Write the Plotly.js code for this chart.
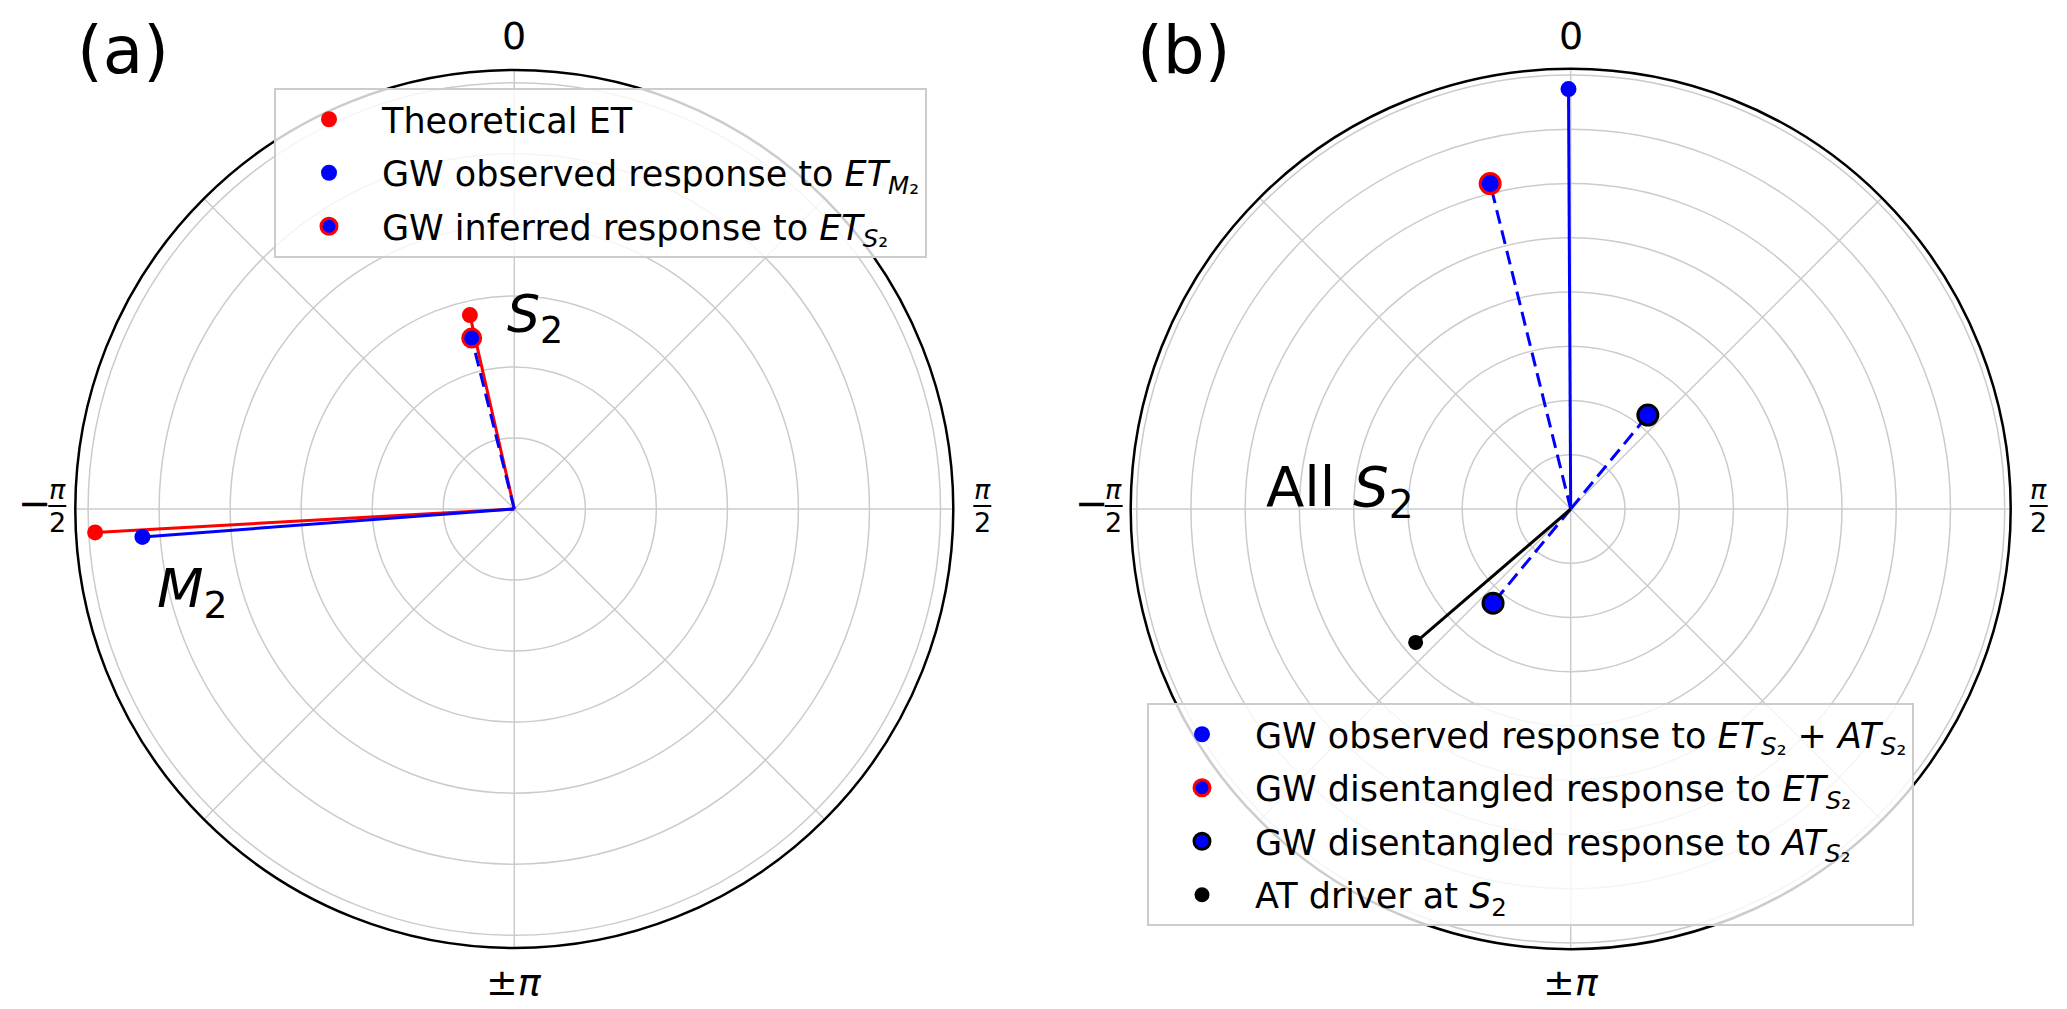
<!DOCTYPE html>
<html>
<head>
<meta charset="utf-8">
<script src="https://cdn.plot.ly/plotly-3.0.1.min.js"></script>
<style>html,body{margin:0;padding:0;background:#fff;}#chart{width:2067px;height:1009px;}</style>
</head>
<body>
<div id="chart"></div>
<script>
// ---------- Data (phase in degrees, amplitude in radial grid units) ----------
// Panel (a)
const aTides = ['M2', 'S2'];
const aTheoPhase = [-93.2, -12.9];      // Theoretical ET
const aTheoAmp = [5.91, 2.80];
const aObsPhase = [-94.3];              // GW observed response to ET_M2
const aObsAmp = [5.25];
const aInfPhase = [-14.0];              // GW inferred response to ET_S2
const aInfAmp = [2.48];
const aRadialTicks = [1, 2, 3, 4, 5, 6];
const aRadialMax = 6.18;

// Panel (b)
const bObsPhase = [-0.3];               // GW observed response to ET_S2 + AT_S2
const bObsAmp = [7.74];
const bEtPhase = [-13.9];               // GW disentangled response to ET_S2
const bEtAmp = [6.18];
const bAtPhase = [39.4, -140.5];        // GW disentangled response to AT_S2
const bAtAmp = [2.24, 2.25];
const bDrvPhase = [-130.7];             // AT driver at S2
const bDrvAmp = [3.77];
const bRadialTicks = [1, 2, 3, 4, 5, 6, 7, 8];
const bRadialMax = 8.11;

const angTicks = [0, 45, 90, 135, 180, 225, 270, 315];

// ---------- helpers ----------
const W = 2067, H = 1009;
const px = x => x / W;
const py = y => 1 - y / H;
const FONT = 'DejaVu Sans, sans-serif';

function spokes(phases, amps, subplot, color, dash, width) {
  return phases.map((p, i) => ({
    type: 'scatterpolar', subplot: subplot, mode: 'lines',
    r: [0, amps[i]], theta: [p, p],
    line: {color: color, width: width, dash: dash},
    showlegend: false, hoverinfo: 'skip'
  }));
}
let grp = 0;
function pts(phases, amps, subplot, name, legend, marker) {
  grp += 1;
  return {
    type: 'scatterpolar', subplot: subplot, mode: 'markers',
    r: amps, theta: phases, name: name, legend: legend, legendgroup: 'g' + grp,
    marker: marker, cliponaxis: false
  };
}

const dashStyle = '14px,7px';
const traces = [].concat(
  // panel (a) lines
  spokes(aTheoPhase, aTheoAmp, 'polar', 'red', 'solid', 3),
  spokes(aObsPhase, aObsAmp, 'polar', 'blue', 'solid', 3),
  spokes(aInfPhase, aInfAmp, 'polar', 'blue', dashStyle, 3),
  // panel (a) markers
  [
    pts(aTheoPhase, aTheoAmp, 'polar', 'Theoretical ET', 'legend',
        {color: 'red', size: 16}),
    pts(aObsPhase, aObsAmp, 'polar', 'GW observed response to <i>ET</i><sub><i>M</i>₂</sub>', 'legend',
        {color: 'blue', size: 16}),
    pts(aInfPhase, aInfAmp, 'polar', 'GW inferred response to <i>ET</i><sub><i>S</i>₂</sub>', 'legend',
        {color: 'blue', size: 18, line: {color: 'red', width: 3}})
  ],
  // panel (b) lines
  spokes(bObsPhase, bObsAmp, 'polar2', 'blue', 'solid', 3),
  spokes(bEtPhase, bEtAmp, 'polar2', 'blue', dashStyle, 3),
  spokes(bAtPhase, bAtAmp, 'polar2', 'blue', dashStyle, 3),
  spokes(bDrvPhase, bDrvAmp, 'polar2', 'black', 'solid', 3),
  // panel (b) markers
  [
    pts(bObsPhase, bObsAmp, 'polar2', 'GW observed response to <i>ET</i><sub><i>S</i>₂</sub> + <i>AT</i><sub><i>S</i>₂</sub>', 'legend2',
        {color: 'blue', size: 16}),
    pts(bEtPhase, bEtAmp, 'polar2', 'GW disentangled response to <i>ET</i><sub><i>S</i>₂</sub>', 'legend2',
        {color: 'blue', size: 20, line: {color: 'red', width: 3}}),
    pts(bAtPhase, bAtAmp, 'polar2', 'GW disentangled response to <i>AT</i><sub><i>S</i>₂</sub>', 'legend2',
        {color: 'blue', size: 20, line: {color: 'black', width: 3}}),
    pts(bDrvPhase, bDrvAmp, 'polar2', 'AT driver at <i>S</i><sub>2</sub>', 'legend2',
        {color: 'black', size: 15})
  ]
);

function polarCfg(cx, cy, R, ticks, rmax) {
  return {
    domain: {x: [px(cx - R), px(cx + R)], y: [py(cy + R), py(cy - R)]},
    bgcolor: 'white',
    radialaxis: {range: [0, rmax], tickvals: ticks, showticklabels: false, ticks: '',
                 showline: false, gridcolor: '#cbcbcb', gridwidth: 1.5},
    angularaxis: {rotation: 90, direction: 'clockwise', tickvals: angTicks,
                  showticklabels: false, ticks: '', showline: true, linecolor: 'black',
                  linewidth: 2.5, gridcolor: '#cbcbcb', gridwidth: 1.5}
  };
}

const A = {cx: 514.3, cy: 509, R: 439};
const B = {cx: 1570.7, cy: 509, R: 440};

const annotations = [];
const shapes = [];
function txt(x, y, text, size, xanchor) {
  annotations.push({xref: 'paper', yref: 'paper', x: px(x), y: py(y), text: text,
    showarrow: false, xanchor: xanchor || 'center', yanchor: 'middle',
    font: {family: FONT, size: size, color: 'black'}});
}
function frac(cx, cy) {
  txt(cx, cy - 17, '<i>π</i>', 27);
  txt(cx, cy + 16, '2', 27);
  shapes.push({type: 'line', xref: 'paper', yref: 'paper',
    x0: px(cx - 9), x1: px(cx + 9), y0: py(cy), y1: py(cy),
    line: {color: 'black', width: 2}});
}
[A, B].forEach(P => {
  txt(P.cx, 36, '0', 38);
  txt(P.cx, 982, '±<i>π</i>', 38);
  frac(P.cx + 468, 506);
  frac(P.cx - 457, 506);
  txt(P.cx - 479, 503, '−', 40);
});
txt(123, 50, '(a)', 66);
txt(1183, 50, '(b)', 66);
txt(505, 318, '<i>S</i><sub>2</sub>', 52, 'left');
txt(155, 592, '<i>M</i><sub>2</sub>', 54, 'left');
txt(1264, 490, 'All <i>S</i><sub>2</sub>', 56, 'left');

const legendCommon = {
  xanchor: 'left', yanchor: 'top', bgcolor: 'rgba(255,255,255,0.8)',
  bordercolor: '#cccccc', borderwidth: 2,
  font: {family: FONT, size: 35, color: 'black'}, itemwidth: 96,
  traceorder: 'grouped', tracegroupgap: 5
};

const layout = {
  width: W, height: H,
  margin: {l: 0, r: 0, t: 0, b: 0},
  paper_bgcolor: 'white',
  font: {family: FONT, color: 'black'},
  polar: polarCfg(A.cx, A.cy, A.R, aRadialTicks, aRadialMax),
  polar2: polarCfg(B.cx, B.cy, B.R, bRadialTicks, bRadialMax),
  legend: Object.assign({x: px(274), y: py(88)}, legendCommon),
  legend2: Object.assign({x: px(1147), y: py(703)}, legendCommon),
  annotations: annotations,
  shapes: shapes,
  showlegend: true
};

Plotly.newPlot('chart', traces, layout, {displayModeBar: false, staticPlot: true});
</script>
</body>
</html>
